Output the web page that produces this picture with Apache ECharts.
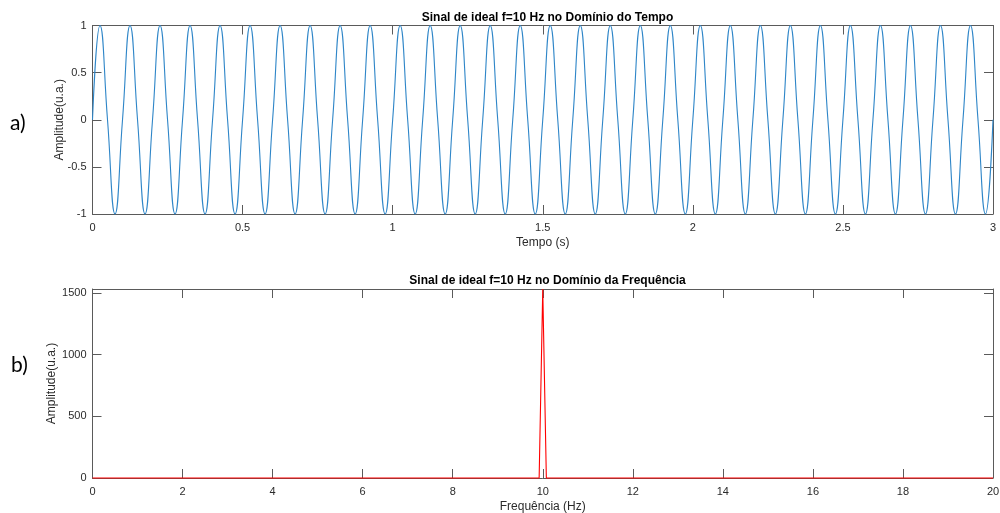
<!DOCTYPE html>
<html>
<head>
<meta charset="utf-8">
<script src="https://cdn.jsdelivr.net/npm/echarts@6/dist/echarts.min.js"></script>
<style>
html,body{margin:0;padding:0;background:#fff;}
#c{width:1000px;height:513px;}
</style>
</head>
<body>
<div id="c"></div>
<script>
// Time-domain signal (samples: peaks, zero crossings, troughs)
const timeT = [0,0.025,0.05,0.075,0.1,0.125,0.15,0.175,0.2,0.225,0.25,0.275,0.3,0.325,0.35,0.375,0.4,0.425,0.45,0.475,
0.5,0.525,0.55,0.575,0.6,0.625,0.65,0.675,0.7,0.725,0.75,0.775,0.8,0.825,0.85,0.875,0.9,0.925,0.95,0.975,
1,1.025,1.05,1.075,1.1,1.125,1.15,1.175,1.2,1.225,1.25,1.275,1.3,1.325,1.35,1.375,1.4,1.425,1.45,1.475,
1.5,1.525,1.55,1.575,1.6,1.625,1.65,1.675,1.7,1.725,1.75,1.775,1.8,1.825,1.85,1.875,1.9,1.925,1.95,1.975,
2,2.025,2.05,2.075,2.1,2.125,2.15,2.175,2.2,2.225,2.25,2.275,2.3,2.325,2.35,2.375,2.4,2.425,2.45,2.475,
2.5,2.525,2.55,2.575,2.6,2.625,2.65,2.675,2.7,2.725,2.75,2.775,2.8,2.825,2.85,2.875,2.9,2.925,2.95,2.975,3];
const ampT = [0,1,0,-1,0,1,0,-1,0,1,0,-1,0,1,0,-1,0,1,0,-1,0,1,0,-1,0,1,0,-1,0,1,0,-1,0,1,0,-1,0,1,0,-1,
0,1,0,-1,0,1,0,-1,0,1,0,-1,0,1,0,-1,0,1,0,-1,0,1,0,-1,0,1,0,-1,0,1,0,-1,0,1,0,-1,0,1,0,-1,
0,1,0,-1,0,1,0,-1,0,1,0,-1,0,1,0,-1,0,1,0,-1,0,1,0,-1,0,1,0,-1,0,1,0,-1,0,1,0,-1,0,1,0,-1,0];

// Frequency-domain spectrum
const freqF = [0, 9.92, 10, 10.08, 20];
const ampF = [0, 0, 1532, 0, 0];

const titleTop = 'Sinal de ideal f=10 Hz no Domínio do Tempo';
const titleBottom = 'Sinal de ideal f=10 Hz no Domínio da Frequência';
const xNameTop = 'Tempo (s)';
const xNameBottom = 'Frequência (Hz)';
const yName = 'Amplitude(u.a.)';
const panelLabels = ['a)', 'b)'];

const seriesTop = timeT.map((t, i) => [t, ampT[i]]);
const seriesBottom = freqF.map((f, i) => [f, ampF[i]]);

const FONT = '"Liberation Sans", Arial, Helvetica, sans-serif';
const AX = '#5a5a5a';
const TXT = '#2b2b2b';

function xAx(gridIndex, min, max, interval, name, gap, pos) {
  const main = pos === 'bottom';
  return {
    type: 'value', gridIndex, min, max, interval, position: pos,
    name: main ? name : '', nameLocation: 'middle', nameGap: gap, nameMoveOverlap: false,
    nameTextStyle: {color: TXT, fontSize: 12, fontFamily: FONT},
    axisLine: {show: true, onZero: false, lineStyle: {color: AX, width: 1}},
    axisTick: {show: true, inside: true, length: 9, lineStyle: {color: AX, width: 1}},
    axisLabel: {show: main, margin: 8, color: TXT, fontSize: 11, fontFamily: FONT,
                formatter: v => String(v)},
    splitLine: {show: false}
  };
}
function yAx(gridIndex, min, max, interval, name, gap, pos, hideMax) {
  const main = pos === 'left';
  return {
    type: 'value', gridIndex, min, max, interval, position: pos,
    name: main ? name : '', nameLocation: 'middle', nameGap: gap, nameMoveOverlap: false,
    nameTextStyle: {color: TXT, fontSize: 12, fontFamily: FONT},
    axisLine: {show: true, onZero: false, lineStyle: {color: AX, width: 1}},
    axisTick: {show: true, inside: true, length: 9, lineStyle: {color: AX, width: 1}},
    axisLabel: {show: main, margin: 6, color: TXT, fontSize: 11, fontFamily: FONT, showMaxLabel: !hideMax,
                formatter: v => String(v)},
    splitLine: {show: false}
  };
}

const chart = echarts.init(document.getElementById('c'), null, {renderer: 'canvas'});
chart.setOption({
  backgroundColor: '#ffffff',
  animation: false,
  title: [
    {text: titleTop, left: 542.5, top: 7, textAlign: 'center',
     textStyle: {fontSize: 12, fontWeight: 'bold', color: '#000', fontFamily: FONT}},
    {text: titleBottom, left: 542.5, top: 270, textAlign: 'center',
     textStyle: {fontSize: 12, fontWeight: 'bold', color: '#000', fontFamily: FONT}}
  ],
  grid: [
    {left: 92.5, right: 7, top: 25.5, height: 188.5, containLabel: false, outerBoundsMode: 'none'},
    {left: 92.5, right: 7, top: 289, height: 189, containLabel: false, outerBoundsMode: 'none'}
  ],
  xAxis: [
    xAx(0, 0, 3, 0.5, xNameTop, 23, 'bottom'),
    xAx(0, 0, 3, 0.5, '', 0, 'top'),
    xAx(1, 0, 20, 2, xNameBottom, 23, 'bottom'),
    xAx(1, 0, 20, 2, '', 0, 'top')
  ],
  yAxis: [
    yAx(0, -1, 1, 0.5, yName, 27, 'left', false),
    yAx(0, -1, 1, 0.5, '', 0, 'right', false),
    yAx(1, 0, 1532, 500, yName, 35, 'left', true),
    yAx(1, 0, 1532, 500, '', 0, 'right', true)
  ],
  graphic: [
    {type: 'text', left: 10, top: 113, style: {text: panelLabels[0], fontSize: 21, fill: '#000', fontFamily: 'Lato, "Open Sans", sans-serif'}},
    {type: 'text', left: 11, top: 355, style: {text: panelLabels[1], fontSize: 21, fill: '#000', fontFamily: 'Lato, "Open Sans", sans-serif'}}
  ],
  series: [
    {type: 'line', xAxisIndex: 0, yAxisIndex: 0, data: seriesTop, smooth: 0.5,
     showSymbol: false, clip: false, lineStyle: {color: '#2f86c8', width: 1.1}},
    {type: 'line', xAxisIndex: 2, yAxisIndex: 2, data: seriesBottom,
     showSymbol: false, clip: false, lineStyle: {color: '#FF0000', width: 1.1}}
  ]
});
</script>
</body>
</html>
